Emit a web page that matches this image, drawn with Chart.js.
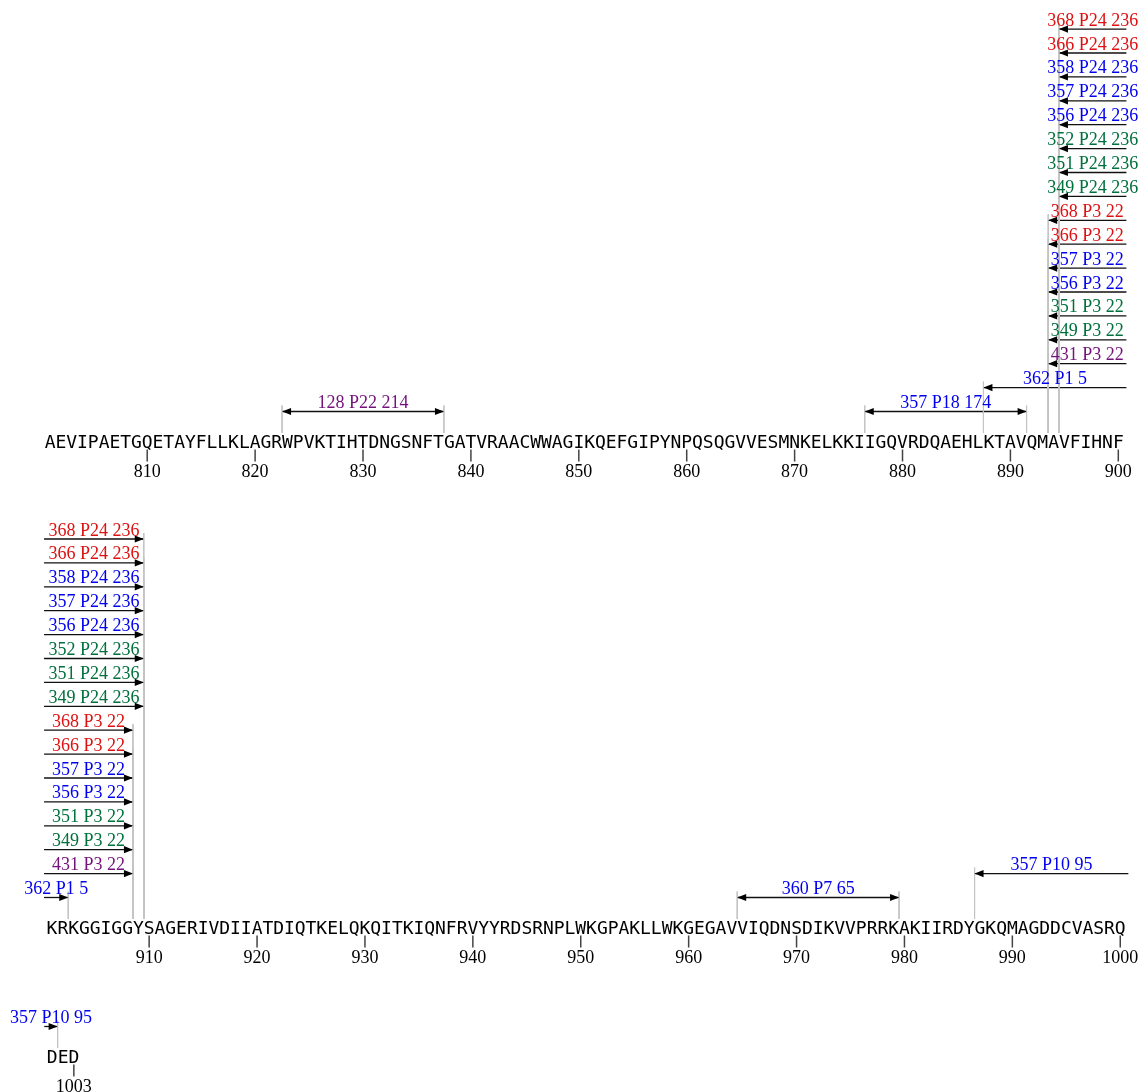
<!DOCTYPE html>
<html><head><meta charset="utf-8">
<script src="https://cdn.jsdelivr.net/npm/chart.js@4.4.1/dist/chart.umd.min.js"></script>
<style>html,body{margin:0;padding:0;background:#fff;}canvas{display:block;}</style>
</head><body>
<canvas id="c" width="1146" height="1092"></canvas>
<script>
// ---------------- DATA ----------------
const sequence =
  "AEVIPAETGQETAYFLLKLAGRWPVKTIHTDNGSNFTGATVRAACWWAGIKQEFGIPYNPQSQGVVESMNKELKKIIGQVRDQAEHLKTAVQMAVFIHNF" +
  "KRKGGIGGYSAGERIVDIIATDIQTKELQKQITKIQNFRVYYRDSRNPLWKGPAKLLWKGEGAVVIQDNSDIKVVPRRKAKIIRDYGKQMAGDDCVASRQ" +
  "DED";
const seqStart = 801;
const residuesPerRow = 100;
const tickPositions = [810,820,830,840,850,860,870,880,890,900,910,920,930,940,950,960,970,980,990,1000,1003];
const tickLabels = ["810","820","830","840","850","860","870","880","890","900","910","920","930","940","950","960","970","980","990","1000","1003"];

const featureLabels = [
  "128 P22 214","357 P18 174","362 P1 5",
  "431 P3 22","349 P3 22","351 P3 22","356 P3 22","357 P3 22","366 P3 22","368 P3 22",
  "349 P24 236","351 P24 236","352 P24 236","356 P24 236","357 P24 236","358 P24 236","366 P24 236","368 P24 236",
  "360 P7 65","357 P10 95"
];
const featureStart = [823,877,888, 894,894,894,894,894,894,894, 895,895,895,895,895,895,895,895, 965,987];
const featureEnd   = [837,891,902, 908,908,908,908,908,908,908, 909,909,909,909,909,909,909,909, 979,1001];
const featureGroup = ["purple","blue","blue",
  "purple","green","green","blue","blue","red","red",
  "green","green","green","blue","blue","blue","red","red",
  "blue","blue"];
// stacking lane of each feature within each sequence row (null = not in row)
const laneRow1 = [0,0,1, 2,3,4,5,6,7,8, 9,10,11,12,13,14,15,16, null,null];
const laneRow2 = [null,null,0, 1,2,3,4,5,6,7, 8,9,10,11,12,13,14,15, 0,1];
const laneRow3 = [null,null,null, null,null,null,null,null,null,null, null,null,null,null,null,null,null,null, null,0];

// ---------------- LAYOUT / STYLE ----------------
const groupColors = {red:"#dd1111", blue:"#0000ee", green:"#00703c", purple:"#72127a"};
const rowLanes = [laneRow1, laneRow2, laneRow3];
const rowBaseline = [448, 934, 1063];
const rowShift = [0, 0.18, 0.2];
const LEFT_EDGE = 0.26, RIGHT_EDGE = 100.75;
const LANE0 = 36.5, LANE_STEP = 23.9;
const PX0 = 50.1, PXSTEP = 10.79, W = 1146, H = 1092;
const X_MIN = 1 - PX0 / PXSTEP;
const X_MAX = X_MIN + W / PXSTEP;

function rowOf(p){ return Math.floor((p - seqStart) / residuesPerRow); }
function colX(p, r){ return p - (seqStart + r * residuesPerRow) + 1 + rowShift[r]; }

const segs = [];
const datasets = [];
const shaftSets = [];
featureLabels.forEach((lab, i) => {
  const r0 = rowOf(featureStart[i]), r1 = rowOf(featureEnd[i]);
  for (let r = r0; r <= r1; r++) {
    const lane = rowLanes[r][i];
    if (lane === null || lane === undefined) continue;
    const headL = (r === r0), headR = (r === r1);
    const left = headL ? colX(featureStart[i], r) - 0.5 : LEFT_EDGE + rowShift[r];
    const right = headR ? colX(featureEnd[i], r) + 0.5 : RIGHT_EDGE + rowShift[r];
    const y = rowBaseline[r] - LANE0 - lane * LANE_STEP;
    segs.push({i, r, left, right, y, headL, headR});
    const guideBottom = rowBaseline[r] - 15;
    if (headL) datasets.push({data:[{x:left,y:y-6},{x:left,y:guideBottom}], showLine:true, borderColor:"#c4c4c4", borderWidth:1, pointRadius:0, clip:false});
    if (headR) datasets.push({data:[{x:right,y:y-6},{x:right,y:guideBottom}], showLine:true, borderColor:"#c4c4c4", borderWidth:1, pointRadius:0, clip:false});
    shaftSets.push({data:[{x:left,y},{x:right,y}], showLine:true, borderColor:"#111", borderWidth:1.3, pointRadius:0, clip:false});
  }
});
datasets.push(...shaftSets);

const annotPlugin = {
  id: "annot",
  afterDatasetsDraw(chart) {
    const ctx = chart.ctx, xs = chart.scales.x, ys = chart.scales.y;
    ctx.save();
    // arrowheads
    ctx.fillStyle = "#000";
    segs.forEach(s => {
      const py = ys.getPixelForValue(s.y);
      if (s.headL) {
        const px = xs.getPixelForValue(s.left);
        ctx.beginPath(); ctx.moveTo(px, py); ctx.lineTo(px + 9, py - 3.6); ctx.lineTo(px + 9, py + 3.6); ctx.closePath(); ctx.fill();
      }
      if (s.headR) {
        const px = xs.getPixelForValue(s.right);
        ctx.beginPath(); ctx.moveTo(px, py); ctx.lineTo(px - 9, py - 3.6); ctx.lineTo(px - 9, py + 3.6); ctx.closePath(); ctx.fill();
      }
    });
    // feature labels
    ctx.font = "18px 'Liberation Serif', 'Times New Roman', serif";
    ctx.textAlign = "center"; ctx.textBaseline = "alphabetic";
    segs.forEach(s => {
      const cx = (xs.getPixelForValue(s.left) + xs.getPixelForValue(s.right)) / 2;
      ctx.fillStyle = groupColors[featureGroup[s.i]];
      ctx.fillText(featureLabels[s.i], cx, ys.getPixelForValue(s.y) - 3.5);
    });
    // sequence letters
    ctx.font = "18px 'DejaVu Sans Mono', monospace";
    ctx.fillStyle = "#000";
    for (let k = 0; k < sequence.length; k++) {
      const p = seqStart + k, r = rowOf(p);
      ctx.fillText(sequence[k], xs.getPixelForValue(colX(p, r)), ys.getPixelForValue(rowBaseline[r]));
    }
    // ticks and tick labels
    tickPositions.forEach((p, k) => {
      const r = rowOf(p), px = xs.getPixelForValue(colX(p, r));
      const b = rowBaseline[r];
      ctx.strokeStyle = "#444"; ctx.lineWidth = 1.5;
      ctx.beginPath(); ctx.moveTo(px, ys.getPixelForValue(b + 1.5)); ctx.lineTo(px, ys.getPixelForValue(b + 13.5)); ctx.stroke();
      ctx.font = "18px 'Liberation Serif', 'Times New Roman', serif";
      ctx.fillStyle = "#000";
      ctx.fillText(tickLabels[k], px, ys.getPixelForValue(b + 28.5));
    });
    ctx.restore();
  }
};

new Chart(document.getElementById("c").getContext("2d"), {
  type: "scatter",
  data: {datasets},
  options: {
    responsive: false, animation: false, events: [],
    layout: {padding: 0},
    plugins: {legend: {display: false}, tooltip: {enabled: false}},
    scales: {
      x: {type: "linear", min: X_MIN, max: X_MAX, display: false},
      y: {type: "linear", min: 0, max: H, reverse: true, display: false}
    }
  },
  plugins: [annotPlugin]
});
</script>
</body></html>
